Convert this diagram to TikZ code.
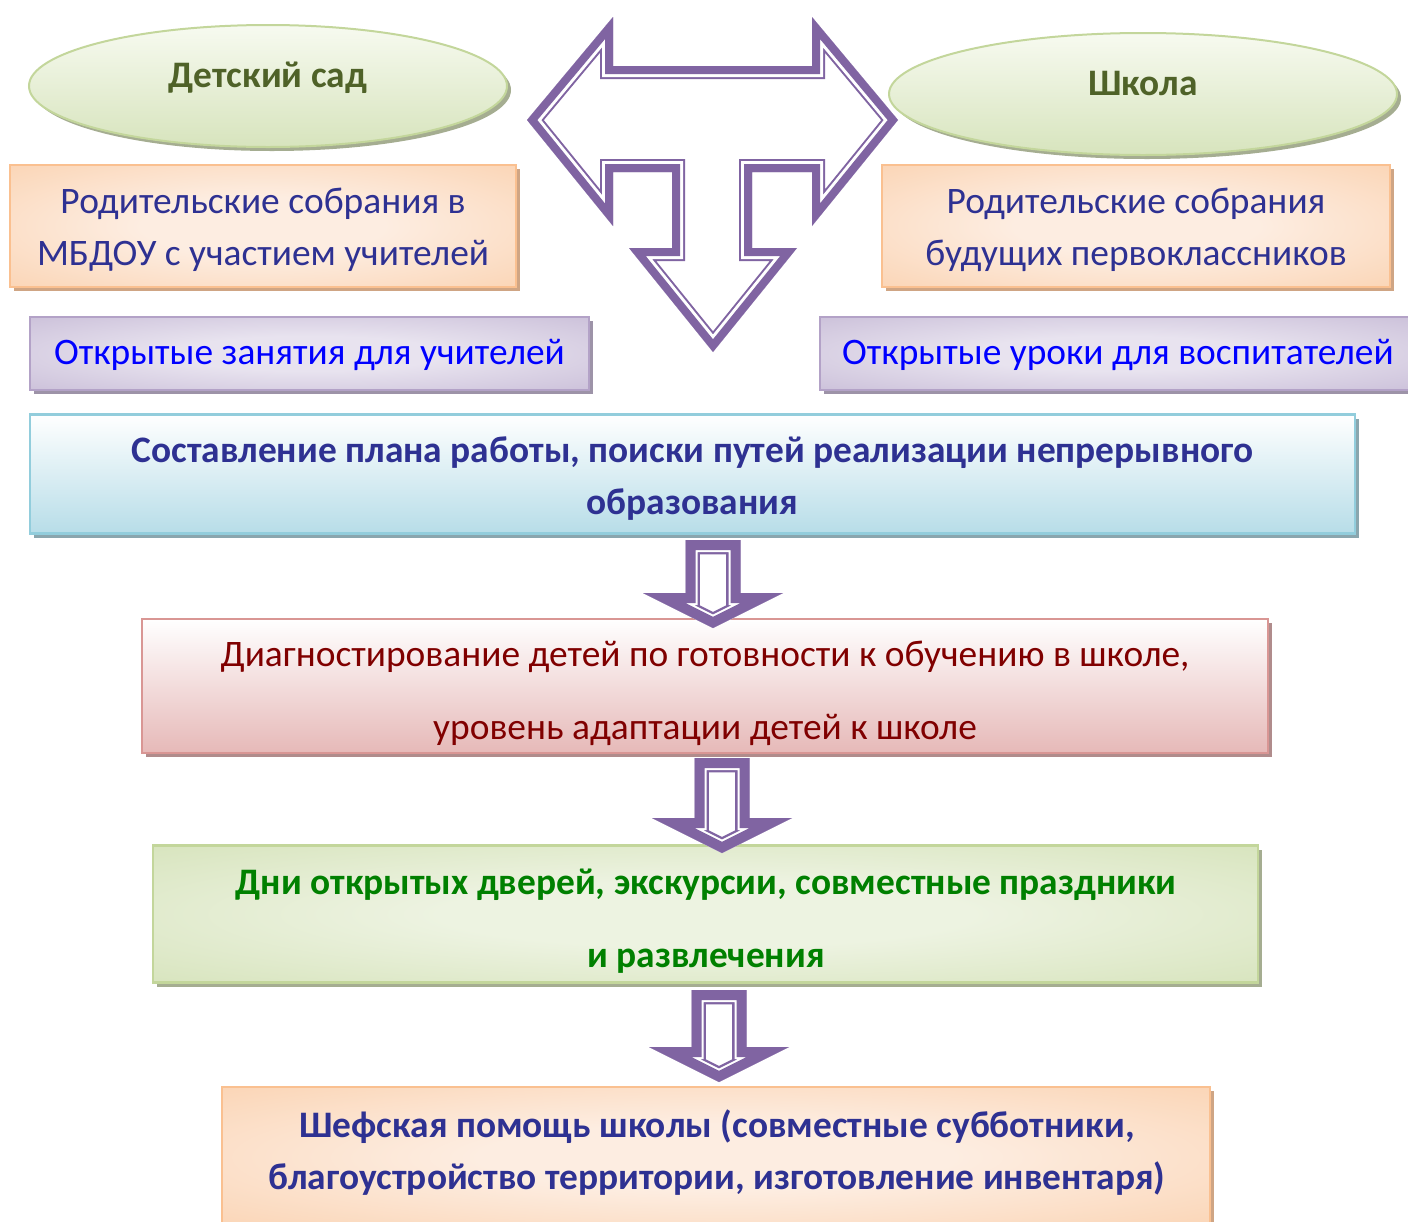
\documentclass[tikz,border=0pt]{standalone}
\usepackage{fontspec}
\setmainfont{Carlito}
\usetikzlibrary{shapes.geometric,shadows}

% couleurs
\definecolor{fleche}{HTML}{8064A2}
\definecolor{orbord}{HTML}{FAC090}
\definecolor{orin}{HTML}{FDEDE1}
\definecolor{orout}{HTML}{F8BB87}
\definecolor{orombre}{HTML}{CFA584}
\definecolor{viobord}{HTML}{B3A2C7}
\definecolor{vioin}{HTML}{E8E3EF}
\definecolor{vioout}{HTML}{AD9CC3}
\definecolor{vioombre}{HTML}{9D93A8}
\definecolor{vertbord}{HTML}{C3D69B}
\definecolor{vertin}{HTML}{EDF3E1}
\definecolor{vertout}{HTML}{C0D497}
\definecolor{vertombre}{HTML}{A5AD91}
\definecolor{ovhaut}{HTML}{F7FAF0}
\definecolor{ovbas}{HTML}{D7E4BD}
\definecolor{bleubord}{HTML}{92CDDC}
\definecolor{bleubas}{HTML}{B7DDE8}
\definecolor{bleuombre}{HTML}{8AA6AE}
\definecolor{rosebord}{HTML}{D99694}
\definecolor{rosebas}{HTML}{E6B9B8}
\definecolor{roseombre}{HTML}{B08C8C}
\definecolor{encre}{HTML}{2E3192}
\definecolor{olivetxt}{HTML}{4F6228}
\definecolor{bordeaux}{HTML}{800000}
\definecolor{vertfonce}{HTML}{008000}

% degrades
\pgfdeclareradialshading{orglow}{\pgfpoint{0bp}{0bp}}{color(0bp)=(orin); color(12bp)=(orin); color(62bp)=(orout); color(72bp)=(orout)}
\pgfdeclareradialshading{vioglow}{\pgfpoint{0bp}{0bp}}{color(0bp)=(vioin); color(12bp)=(vioin); color(62bp)=(vioout); color(72bp)=(vioout)}
\pgfdeclareradialshading{vertglow}{\pgfpoint{0bp}{0bp}}{color(0bp)=(vertin); color(12bp)=(vertin); color(62bp)=(vertout); color(72bp)=(vertout)}

% fleche creuse : contour, trait large, blanc, trait epais
\newcommand{\flechecreuse}[4]{%
  \fill[white] #1;
  \begin{scope}
    \clip #1;
    \draw[fleche, line width=#2] #1;
    \draw[white, line width=#3] #1;
    \draw[fleche, line width=#4] #1;
  \end{scope}}

\tikzset{
  boite/.style={rectangle, inner sep=0pt, outer sep=0pt, line width=1.2pt},
  ombre/.style={drop shadow={shadow xshift=2pt, shadow yshift=-2pt, fill=#1, opacity=1}},
  texte/.style={inner sep=0pt, align=center, font=\fontsize{18.7}{26}\selectfont},
  gras/.style={inner sep=0pt, align=center, font=\fontsize{18.7}{26}\bfseries\selectfont},
  espace/.style={font=\fontsize{18.7}{36.5}\selectfont},
  ovale/.style={ellipse, inner sep=0pt, outer sep=0pt, line width=1pt, draw=vertbord,
    top color=ovhaut, bottom color=ovbas, ombre=vertombre},
  orange/.style={boite, draw=orbord, shading=orglow, ombre=orombre},
  mauve/.style={boite, draw=viobord, shading=vioglow, ombre=vioombre},
  bleu/.style={boite, draw=bleubord, top color=white, bottom color=bleubas, ombre=bleuombre},
  rose/.style={boite, draw=rosebord, top color=white, bottom color=rosebas, ombre=roseombre},
  vert/.style={boite, draw=vertbord, shading=vertglow, ombre=vertombre},
}

\begin{document}
\begin{tikzpicture}[x=0.5pt, y=-0.5pt]
  \useasboundingbox (0,0) rectangle (1408,1221);
  \clip (0,0) rectangle (1408,1221);

  % detsky sad / shkola
  \node[ovale, minimum width=239pt, minimum height=61pt] (sad) at (268,86) {};
  \node[gras, text=olivetxt] (sadtxt) at (268,78) {Детский сад};
  \node[ovale, minimum width=254pt, minimum height=61pt] (shk) at (1143,94) {};
  \node[gras, text=olivetxt] (shktxt) at (1143,84) {Школа};

  % sobrania
  \node[orange, minimum width=253pt, minimum height=61pt] (sobl) at (263,226) {};
  \node[texte, text=encre] (sobltxt) at (263,230) {Родительские собрания в\\МБДОУ с участием учителей};
  \node[orange, minimum width=254pt, minimum height=61pt] (sobr) at (1136,226) {};
  \node[texte, text=encre] (sobrtxt) at (1136,230) {Родительские собрания\\будущих первоклассников};

  % otkrytye
  \node[mauve, minimum width=279.5pt, minimum height=36.5pt] (otkl) at (309.5,353.5) {};
  \node[texte, text=blue] (otkltxt) at (309.5,354.5) {Открытые занятия для учителей};
  \node[mauve, minimum width=296pt, minimum height=36.5pt] (otkr) at (1116,353.5) {};
  \node[texte, text=blue] (otkrtxt) at (1118,354.5) {Открытые уроки для воспитателей};

  % etapes
  \node[bleu, minimum width=662.5pt, minimum height=59.5pt] (plan) at (692.5,474) {};
  \node[gras, text=encre] (plantxt) at (692.5,479)
    {Составление плана работы, поиски путей реализации непрерывного\\образования};
  \node[rose, minimum width=563pt, minimum height=67pt] (diag) at (705,686) {};
  \node[texte, espace, text=bordeaux] (diagtxt) at (705,693)
    {Диагностирование детей по готовности к обучению в школе,\\уровень адаптации детей к школе};
  \node[vert, minimum width=552.5pt, minimum height=68.5pt] (dni) at (705.5,914) {};
  \node[gras, font=\fontsize{18.7}{36.5}\bfseries\selectfont, text=vertfonce] (dnitxt) at (706,921)
    {Дни открытых дверей, экскурсии, совместные праздники\\и развлечения};
  \node[orange, minimum width=494pt, minimum height=70pt] (shef) at (716,1157) {};
  \node[gras, text=encre] (sheftxt) at (717,1153)
    {Шефская помощь школы (совместные субботники,\\благоустройство территории, изготовление инвентаря)};

  % grande fleche
  \flechecreuse{(527,120) -- (613,17) -- (613,66) -- (812,66) -- (812,17) -- (898,120)
    -- (812,226) -- (812,172) -- (752,172) -- (752,248) -- (797,248) -- (713,352)
    -- (629,248) -- (672,248) -- (672,172) -- (613,172) -- (613,226) -- cycle}{13pt}{11pt}{8pt}

  % fleches vers le bas
  \foreach \x/\y/\l in {713/540/88, 722/758/95, 719/990/92}{
    \begin{scope}[shift={(\x,\y)}]
      \flechecreuse{(-27.5,0) -- (27.5,0) -- (27.5,\l-35) -- (70,\l-35) -- (0,\l)
        -- (-70,\l-35) -- (-27.5,\l-35) -- cycle}{14.4pt}{12pt}{10pt}
    \end{scope}
  }
\end{tikzpicture}
\end{document}
